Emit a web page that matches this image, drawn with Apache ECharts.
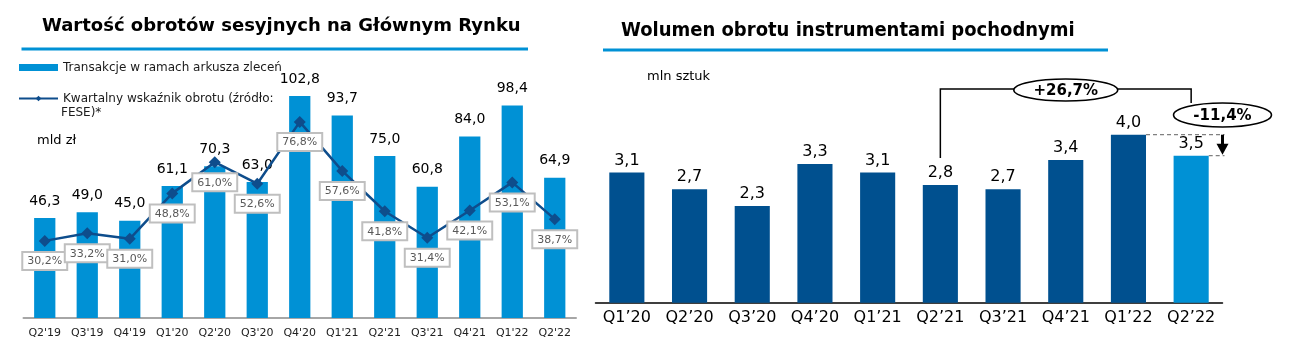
<!DOCTYPE html>
<html><head><meta charset="utf-8">
<script src="https://cdn.jsdelivr.net/npm/echarts@6/dist/echarts.min.js"></script>
<style>html,body{margin:0;padding:0;background:#fff}#c{width:1289px;height:350px}</style>
</head><body><div id="c"></div>
<script>
// ---- data ----
const leftCats = ["Q2'19","Q3'19","Q4'19","Q1'20","Q2'20","Q3'20","Q4'20","Q1'21","Q2'21","Q3'21","Q4'21","Q1'22","Q2'22"];
const turnover = [46.3,49.0,45.0,61.1,70.3,63.0,102.8,93.7,75.0,60.8,84.0,98.4,64.9];
const velocity = [30.2,33.2,31.0,48.8,61.0,52.6,76.8,57.6,41.8,31.4,42.1,53.1,38.7];
const rightCats = ['Q1’20','Q2’20','Q3’20','Q4’20','Q1’21','Q2’21','Q3’21','Q4’21','Q1’22','Q2’22'];
const volume = [3.1,2.7,2.3,3.3,3.1,2.8,2.7,3.4,4.0,3.5];
const changeYoY = '+26,7%';
const changeQoQ = '-11,4%';
const leftTitle = 'Wartość obrotów sesyjnych na Głównym Rynku';
const rightTitle = 'Wolumen obrotu instrumentami pochodnymi';
const barName = 'Transakcje w ramach arkusza zleceń';
const lineName = 'Kwartalny wskaźnik obrotu (źródło: FESE)*';

const LIGHT = '#0091D5', DARK = '#00508F', LINE = '#0E4D8C';
const FONT = 'DejaVu Sans';
const fmt = v => v.toFixed(1).replace('.', ',');

const chart = echarts.init(document.getElementById('c'), null, {renderer: 'canvas'});
chart.setOption({
  animation: false,
  textStyle: {fontFamily: FONT},
  title: [
    {text: leftTitle, left: 37, top: 12, textStyle: {fontFamily: FONT, fontWeight: 'bold', fontSize: 18, color: '#000'}},
    {text: rightTitle, left: 616, top: 16, textStyle: {fontFamily: 'DejaVu Sans Condensed', fontWeight: 'bold', fontSize: 20, color: '#000'}}
  ],
  legend: {
    orient: 'vertical', left: 13, top: 55, padding: 5, itemWidth: 39, itemHeight: 7, itemGap: 16,
    selectedMode: false,
    textStyle: {fontFamily: FONT, fontSize: 12, color: '#1a1a1a', lineHeight: 15},
    formatter: n => n === lineName ? 'Kwartalny wskaźnik obrotu (źródło:' : n,
    data: [{name: barName, icon: 'rect'}, {name: lineName}]
  },
  grid: [
    {left: 23.5, right: 713, top: 58.8, bottom: 32},
    {left: 595.5, right: 66.5, top: 71.7, bottom: 47.3}
  ],
  xAxis: [
    {type: 'category', gridIndex: 0, data: leftCats,
     axisLine: {lineStyle: {color: '#A6A6A6', width: 2}}, axisTick: {show: false},
     axisLabel: {fontFamily: FONT, fontSize: 11, color: '#222', margin: 10}},
    {type: 'category', gridIndex: 1, data: rightCats,
     axisLine: {lineStyle: {color: '#000', width: 1.5}}, axisTick: {show: false},
     axisLabel: {fontFamily: FONT, fontSize: 16, color: '#000', margin: 7}}
  ],
  yAxis: [
    {type: 'value', gridIndex: 0, min: 0, max: 120, show: false, splitLine: {show: false}},
    {type: 'value', gridIndex: 0, min: 0, max: 101.5, show: false, splitLine: {show: false}},
    {type: 'value', gridIndex: 1, min: 0, max: 5.5, show: false, splitLine: {show: false}}
  ],
  series: [
    {name: barName, type: 'bar', xAxisIndex: 0, yAxisIndex: 0, data: turnover, barWidth: '50%',
     itemStyle: {color: LIGHT},
     label: {show: true, position: 'top', distance: 10, fontFamily: FONT, fontSize: 14, color: '#000', formatter: p => fmt(p.value)}},
    {name: lineName, type: 'line', xAxisIndex: 0, yAxisIndex: 1, data: velocity,
     symbol: 'diamond', symbolSize: 12, lineStyle: {color: LINE, width: 2.5}, itemStyle: {color: LINE},
     label: {show: true, position: 'bottom', distance: 6, fontFamily: FONT, fontSize: 11, color: '#595959',
       backgroundColor: '#fff', borderColor: '#BFBFBF', borderWidth: 2, padding: [3, 4, 2, 4],
       formatter: p => fmt(p.value) + '%'}},
    {name: 'Wolumen', type: 'bar', xAxisIndex: 1, yAxisIndex: 2, data: volume, barWidth: '56%',
     itemStyle: {color: p => p.dataIndex === volume.length - 1 ? LIGHT : DARK},
     label: {show: true, position: 'top', distance: 4, fontFamily: FONT, fontSize: 16, color: '#000', formatter: p => fmt(p.value)}}
  ]
});

// ---- annotations computed from the axes ----
const px = (i, v) => chart.convertToPixel({xAxisIndex: 1, yAxisIndex: 2}, [i, v]);
const band = px(1, 0)[0] - px(0, 0)[0];
const half = band * 0.56 / 2;
const iStart = rightCats.indexOf('Q2’21'), iEnd = rightCats.length - 1, iPrev = iEnd - 1;
const pStart = px(iStart, volume[iStart]);
const pEnd = px(iEnd, volume[iEnd]);
const pPrev = px(iPrev, volume[iPrev]);
const pMid = px(iStart + 2, 0);
const gridRight = 1289 - 66.5;
const bracketY = 89;
const e2 = {cx: gridRight, cy: 115, rx: 49, ry: 12};
const e1 = {cx: pMid[0], cy: 90, rx: 52, ry: 11};

const g = [
  // title underlines
  {type: 'line', shape: {x1: 21.5, y1: 49, x2: 528, y2: 49}, style: {stroke: '#0091D5', lineWidth: 3}},
  {type: 'line', shape: {x1: 603, y1: 50, x2: 1108, y2: 50}, style: {stroke: '#0091D5', lineWidth: 3}},
  // units
  {type: 'text', style: {text: 'mld zł', x: 37, y: 141, verticalAlign: 'middle', font: '13px ' + FONT, fill: '#000'}},
  {type: 'text', style: {text: 'mln sztuk', x: 647, y: 77, verticalAlign: 'middle', font: '13px ' + FONT, fill: '#000'}},
  {type: 'text', style: {text: 'FESE)*', x: 61, y: 113, verticalAlign: 'middle', font: '12px ' + FONT, fill: '#1a1a1a'}},
  // bracket
  {type: 'polyline', shape: {points: [[pStart[0], pStart[1] - 27], [pStart[0], bracketY], [pEnd[0], bracketY], [pEnd[0], e2.cy - e2.ry]]},
   style: {stroke: '#000', lineWidth: 1.5, fill: null}},
  {type: 'ellipse', shape: e1, style: {fill: '#fff', stroke: '#000', lineWidth: 1.5}},
  {type: 'text', style: {text: changeYoY, x: e1.cx, y: e1.cy + 1, align: 'center', verticalAlign: 'middle', font: 'bold 15px ' + FONT, fill: '#000'}},
  // dashed reference lines
  {type: 'line', shape: {x1: pPrev[0] + half, y1: pPrev[1], x2: gridRight + 2, y2: pPrev[1]}, style: {stroke: '#808080', lineWidth: 1.2, lineDash: [4, 3]}},
  {type: 'line', shape: {x1: pEnd[0] + half, y1: pEnd[1], x2: gridRight + 2, y2: pEnd[1]}, style: {stroke: '#808080', lineWidth: 1.2, lineDash: [4, 3]}},
  {type: 'line', shape: {x1: gridRight, y1: pPrev[1], x2: gridRight, y2: pPrev[1] + (pEnd[1] - pPrev[1]) * 0.5}, style: {stroke: '#000', lineWidth: 3}},
  {type: 'polygon', shape: {points: [[gridRight - 6, pPrev[1] + 9], [gridRight + 6, pPrev[1] + 9], [gridRight, pEnd[1] - 1]]}, style: {fill: '#000'}},
  {type: 'ellipse', shape: e2, style: {fill: '#fff', stroke: '#000', lineWidth: 1.5}},
  {type: 'text', style: {text: changeQoQ, x: e2.cx, y: e2.cy + 1, align: 'center', verticalAlign: 'middle', font: 'bold 15px ' + FONT, fill: '#000'}}
];
chart.setOption({graphic: g});
</script></body></html>
